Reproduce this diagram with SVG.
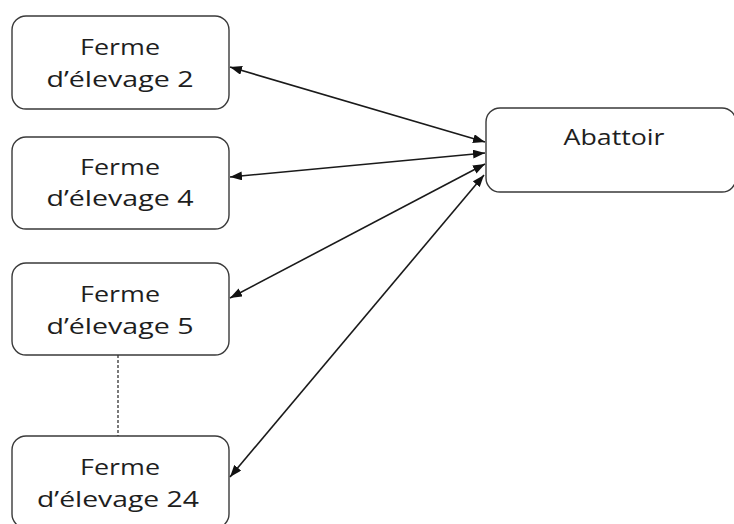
<svg xmlns="http://www.w3.org/2000/svg" width="734" height="524" viewBox="0 0 734 524">
<defs>
<style>
.box{fill:#fff;stroke:#3a3a3a;stroke-width:1.4}
.t{font-family:"Open Sans","Noto Sans",sans-serif;font-size:22px;font-weight:500;fill:#1e1e1e;text-anchor:middle}
.c{stroke:#1a1a1a;stroke-width:1.6;fill:none;marker-start:url(#ah);marker-end:url(#ah)}
.d{stroke:#333;stroke-width:1.3;stroke-dasharray:3,2;fill:none}
</style>
<marker id="ah" viewBox="0 0 12 9" refX="12" refY="4.5" markerWidth="12" markerHeight="9" markerUnits="userSpaceOnUse" orient="auto-start-reverse">
<path d="M0,0 L12,4.5 L0,9 Z" fill="#111"/>
</marker>
</defs>
<rect width="734" height="524" fill="#fff"/>
<g id="ferme2">
<rect class="box" x="12" y="16" width="217" height="93" rx="14"/>
<text class="t" x="120" y="55" textLength="80" lengthAdjust="spacingAndGlyphs">Ferme</text>
<text class="t" x="120" y="87" textLength="147" lengthAdjust="spacingAndGlyphs">d’élevage 2</text>
</g>
<g id="ferme4">
<rect class="box" x="12" y="137" width="217" height="92" rx="14"/>
<text class="t" x="120" y="175" textLength="80" lengthAdjust="spacingAndGlyphs">Ferme</text>
<text class="t" x="120" y="206" textLength="147" lengthAdjust="spacingAndGlyphs">d’élevage 4</text>
</g>
<g id="ferme5">
<rect class="box" x="12" y="263" width="217" height="92" rx="14"/>
<text class="t" x="120" y="302" textLength="80" lengthAdjust="spacingAndGlyphs">Ferme</text>
<text class="t" x="120" y="334" textLength="147" lengthAdjust="spacingAndGlyphs">d’élevage 5</text>
</g>
<g id="ferme24">
<rect class="box" x="12" y="436" width="217" height="92" rx="14"/>
<text class="t" x="120" y="475" textLength="80" lengthAdjust="spacingAndGlyphs">Ferme</text>
<text class="t" x="118" y="507" textLength="162" lengthAdjust="spacingAndGlyphs">d’élevage 24</text>
</g>
<g id="abattoir">
<rect class="box" x="486" y="108" width="250" height="84" rx="14"/>
<text class="t" x="614" y="145" textLength="101" lengthAdjust="spacingAndGlyphs">Abattoir</text>
</g>
<g id="connectors">
<line class="c" x1="230" y1="67" x2="485" y2="142"/>
<line class="c" x1="230" y1="177" x2="485" y2="153"/>
<line class="c" x1="230" y1="298" x2="485" y2="164"/>
<line class="c" x1="230" y1="477" x2="484" y2="175"/>
<line class="d" x1="118" y1="355" x2="118" y2="436"/>
</g>
</svg>
